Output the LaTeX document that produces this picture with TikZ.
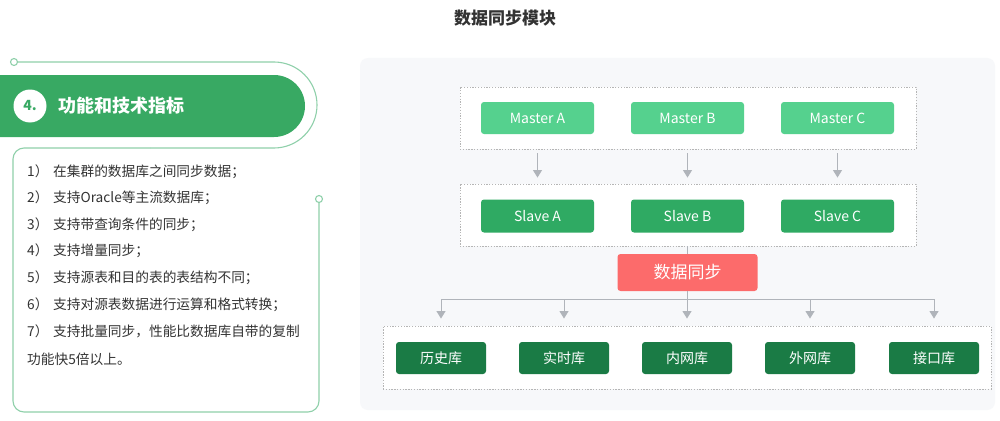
\documentclass[tikz,border=0pt]{standalone}
\usepackage{fontspec}
\setmainfont{Noto Sans CJK SC}
\usetikzlibrary{arrows.meta}
\definecolor{mgreen}{HTML}{55D18E}
\definecolor{sgreen}{HTML}{2FAA63}
\definecolor{dgreen}{HTML}{1A7B45}
\definecolor{rred}{HTML}{FC6B6B}
\definecolor{pillg}{HTML}{38A963}
\definecolor{outl}{HTML}{8FD0AA}
\definecolor{agray}{HTML}{B0B4BA}
\definecolor{dgray}{HTML}{B5B5B5}
\definecolor{panel}{HTML}{F7F8FA}
\definecolor{txt}{HTML}{333333}
\tikzset{
  fs/.style={font=\fontsize{#1}{#1}\selectfont},
  boxbase/.style={rounded corners=3pt, text=white, inner sep=0pt, fs=14},
  mbox/.style={boxbase, fill=mgreen, minimum width=113pt, minimum height=32pt},
  sbox/.style={boxbase, fill=sgreen, minimum width=113pt, minimum height=33pt},
  bbox/.style={boxbase, fill=dgreen, minimum width=90pt, minimum height=32pt},
  dbox/.style={draw=dgray, line width=0.9pt, dash pattern=on 1.3pt off 1.5pt, fill=white, inner sep=0pt},
  conn/.style={draw=agray, line width=1pt},
  arr/.style={conn, -{Triangle[width=9pt,length=7.5pt]}},
  outline/.style={draw=outl, line width=1.1pt},
  dot/.style={circle, draw=outl, line width=1.1pt, fill=white, minimum size=7pt, inner sep=0pt},
  item/.style={anchor=west, text=txt, fs=13.7, inner sep=0pt},
}
\begin{document}
\begin{tikzpicture}[x=1pt,y=-1pt]
\useasboundingbox (0,0) rectangle (1000,420);
\fill[white] (0,0) rectangle (1000,420);
% title
\node[text=txt, font=\fontsize{17}{17}\selectfont\bfseries] (title) at (505,18) {数据同步模块};
% left outline
\draw[outline, rounded corners=43pt] (17.5,62) -- (317,62) -- (317,148) -- (150,148);
\draw[outline, rounded corners=11pt] (150,148) -- (13,148) -- (13,412) -- (319,412) -- (319,203);
\node[dot] (d1) at (14,62) {};
\node[dot] (d2) at (319,199) {};
% green pill
\begin{scope}
\clip (0,0) rectangle (1000,420);
\fill[pillg, rounded corners=31pt] (-40,75) rectangle (305,137);
\end{scope}
\node[circle, fill=white, minimum size=33pt, inner sep=0pt, text=pillg, font=\fontsize{14}{14}\selectfont\bfseries] (num) at (30,106) {4.};
\node[anchor=west, text=white, inner sep=0pt, font=\fontsize{18}{18}\selectfont\bfseries] (head) at (58,106) {功能和技术指标};
% list
\node[item] (l1) at (27,172) {\makebox[26pt][l]{1）}在集群的数据库之间同步数据；};
\node[item] (l2) at (27,198) {\makebox[26pt][l]{2）}支持Oracle等主流数据库；};
\node[item] (l3) at (27,224.5) {\makebox[26pt][l]{3）}支持带查询条件的同步；};
\node[item] (l4) at (27,251) {\makebox[26pt][l]{4）}支持增量同步；};
\node[item] (l5) at (27,277.5) {\makebox[26pt][l]{5）}支持源表和目的表的表结构不同；};
\node[item] (l6) at (27,304.5) {\makebox[26pt][l]{6）}支持对源表数据进行运算和格式转换；};
\node[item] (l7) at (27,331.5) {\makebox[26pt][l]{7）}支持批量同步，性能比数据库自带的复制};
\node[item] (l8) at (27,359) {功能快5倍以上。};
% right panel
\fill[panel, rounded corners=8pt] (360,58) rectangle (995,410);
\node[dbox, minimum width=456pt, minimum height=62pt] (top) at (688,118) {};
\node[dbox, minimum width=456pt, minimum height=62pt] (mid) at (688,215) {};
\node[dbox, minimum width=608pt, minimum height=63pt] (bot) at (687,357.5) {};
\node[mbox] (mA) at (537.5,118) {Master A};
\node[mbox] (mB) at (687.5,118) {Master B};
\node[mbox] (mC) at (837.5,118) {Master C};
\node[sbox] (sA) at (537.5,216) {Slave A};
\node[sbox] (sB) at (687.5,216) {Slave B};
\node[sbox] (sC) at (837.5,216) {Slave C};
\node[boxbase, fill=rred, minimum width=140pt, minimum height=37pt, fs=17] (sync) at (687.5,272.5) {数据同步};
\node[bbox] (b1) at (441,358) {历史库};
\node[bbox] (b2) at (564,358) {实时库};
\node[bbox] (b3) at (687,358) {内网库};
\node[bbox] (b4) at (810,358) {外网库};
\node[bbox] (b5) at (934,358) {接口库};
\coordinate (bus) at (687.5,299);
% arrows
\foreach \m/\s in {mA/sA,mB/sB,mC/sC}
  \draw[arr, shorten <=4pt, shorten >=6pt] (\m.south |- top.south) -- (\s.north |- mid.north);
\draw[conn] (mid.south -| sync.north) -- (sync.north);
\draw[conn] (sync.south) -- (bus);
\draw[conn] (b1.north |- bus) -- (b5.north |- bus);
\foreach \b in {b1,b2,b3,b4,b5}
  \draw[arr, shorten >=7pt] (\b.north |- bus) -- (\b.north |- bot.north);
\end{tikzpicture}
\end{document}
